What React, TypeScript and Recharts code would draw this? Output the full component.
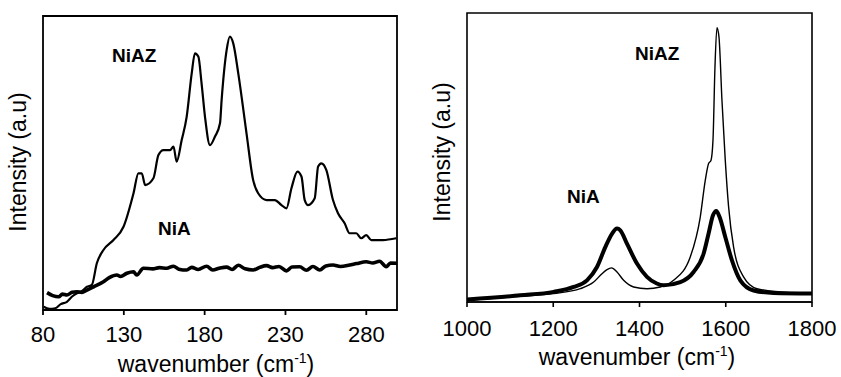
import React from 'react';
import { LineChart, Line, XAxis, YAxis, ReferenceArea } from 'recharts';

const FONT = '"Liberation Sans", Arial, Helvetica, sans-serif';

const leftTicks = [80, 130, 180, 230, 280];
const rightTicks = [1000, 1200, 1400, 1600, 1800];

// Left panel (low wavenumber)
const niazLow = [
  { x: 80.4, y: 1.1 }, { x: 84, y: 0.4 }, { x: 87.6, y: 0.6 }, { x: 91, y: 2.0 }, { x: 94.8, y: 2.8 },
  { x: 98, y: 4.6 }, { x: 101, y: 5.7 }, { x: 104, y: 6.4 }, { x: 107.2, y: 7.9 }, { x: 110.2, y: 8.5 },
  { x: 113.3, y: 15.9 }, { x: 117.4, y: 20.4 }, { x: 123.6, y: 23.8 }, { x: 129.8, y: 28.3 },
  { x: 136, y: 39.7 }, { x: 139, y: 46.5 }, { x: 141.1, y: 46.5 }, { x: 143.2, y: 42.5 },
  { x: 148.3, y: 44.8 }, { x: 151.4, y: 52.7 }, { x: 154.5, y: 54.4 }, { x: 158.6, y: 54.4 },
  { x: 160.7, y: 55.6 }, { x: 162.7, y: 50.5 }, { x: 165.8, y: 57.8 }, { x: 168.9, y: 65.8 },
  { x: 172, y: 80.5 }, { x: 174, y: 87.3 }, { x: 176.1, y: 86.2 }, { x: 178.1, y: 77.1 },
  { x: 180.2, y: 65.8 }, { x: 183.3, y: 56.1 }, { x: 186.4, y: 59 }, { x: 189.5, y: 63.5 },
  { x: 190.5, y: 71.4 }, { x: 193.6, y: 88.4 }, { x: 195.6, y: 93 }, { x: 197.7, y: 90.7 },
  { x: 200.8, y: 80.5 }, { x: 205.9, y: 60.1 }, { x: 210, y: 44.2 }, { x: 213.1, y: 39.7 },
  { x: 218.3, y: 37.4 }, { x: 223.4, y: 37.4 }, { x: 227.5, y: 35.7 }, { x: 230.6, y: 34.6 },
  { x: 233.7, y: 41.4 }, { x: 237.4, y: 47.1 }, { x: 239.9, y: 45.4 }, { x: 241.9, y: 37.4 },
  { x: 244, y: 35.7 }, { x: 248.1, y: 38 }, { x: 250.2, y: 48.8 }, { x: 252.2, y: 49.9 },
  { x: 255.3, y: 47.6 }, { x: 259.4, y: 37.4 }, { x: 262.5, y: 32.9 }, { x: 266.6, y: 29.5 },
  { x: 269.7, y: 26.1 }, { x: 273.8, y: 26.1 }, { x: 276.9, y: 24.4 }, { x: 280, y: 25.5 },
  { x: 283.1, y: 23.8 }, { x: 290.3, y: 23.8 }, { x: 298.5, y: 24.4 },
];

const niaLow = [
  { x: 82.5, y: 5.9 }, { x: 86, y: 4.9 }, { x: 89.7, y: 4.5 }, { x: 92, y: 5.4 }, { x: 94.8, y: 5.1 },
  { x: 98, y: 6.0 }, { x: 101, y: 6.2 }, { x: 104, y: 6.0 }, { x: 107.2, y: 6.8 }, { x: 111.3, y: 7.9 },
  { x: 117.4, y: 9.6 }, { x: 121, y: 11.0 }, { x: 125.7, y: 11.9 }, { x: 128, y: 11.4 }, { x: 131.9, y: 12.5 },
  { x: 136, y: 13 }, { x: 138, y: 11.9 }, { x: 142.1, y: 14.2 }, { x: 148, y: 14.0 }, { x: 152, y: 14.4 },
  { x: 156.5, y: 14.2 }, { x: 160.7, y: 14.9 }, { x: 164, y: 13.9 }, { x: 168.9, y: 13.6 },
  { x: 172, y: 14.5 }, { x: 176, y: 13.8 }, { x: 181.2, y: 14.9 }, { x: 185, y: 13.6 },
  { x: 189, y: 14.2 }, { x: 193.6, y: 14.6 }, { x: 197, y: 13.8 }, { x: 200.8, y: 15.2 },
  { x: 205, y: 14.0 }, { x: 210, y: 13.6 }, { x: 214, y: 14.5 }, { x: 218.3, y: 15.1 },
  { x: 222, y: 14.4 }, { x: 226, y: 14.8 }, { x: 230.6, y: 13.3 }, { x: 234, y: 14.6 },
  { x: 238.8, y: 14.7 }, { x: 243, y: 13.5 }, { x: 247, y: 14.8 }, { x: 251.2, y: 13.6 },
  { x: 255, y: 15.0 }, { x: 259.4, y: 15.3 }, { x: 264, y: 14.8 }, { x: 269.7, y: 15.3 },
  { x: 274, y: 15.8 }, { x: 280, y: 16.4 }, { x: 284, y: 16.0 }, { x: 288.2, y: 16.6 },
  { x: 292.3, y: 14.7 }, { x: 295, y: 16.0 }, { x: 299.5, y: 15.9 },
];

// Right panel (high wavenumber)
const niazHigh = [
  { x: 1000, y: 0.6 }, { x: 1123.6, y: 2.0 }, { x: 1200.9, y: 2.9 }, { x: 1262.8, y: 4.6 },
  { x: 1293.7, y: 6.9 }, { x: 1313, y: 9.8 }, { x: 1324.6, y: 11.2 }, { x: 1335, y: 11.8 },
  { x: 1347.8, y: 10.4 }, { x: 1363.2, y: 7.5 }, { x: 1386.4, y: 5.2 }, { x: 1417.3, y: 4.6 },
  { x: 1448, y: 5.2 }, { x: 1479, y: 7.5 }, { x: 1517.7, y: 15.6 }, { x: 1540.9, y: 29.4 },
  { x: 1552.5, y: 42.1 }, { x: 1560.2, y: 47.9 }, { x: 1565.7, y: 49 }, { x: 1570.4, y: 56 },
  { x: 1575, y: 81.3 }, { x: 1579.6, y: 94.9 }, { x: 1584.3, y: 91.7 }, { x: 1591.2, y: 69.8 },
  { x: 1598.9, y: 49 }, { x: 1606.6, y: 32.9 }, { x: 1618.2, y: 19 }, { x: 1641.3, y: 8.7 },
  { x: 1672.4, y: 4.6 }, { x: 1726.4, y: 3.5 }, { x: 1800, y: 2.9 },
];

const niaHigh = [
  { x: 1000, y: 0.9 }, { x: 1123.6, y: 2.3 }, { x: 1200.9, y: 3.5 }, { x: 1247.3, y: 5.2 },
  { x: 1278.2, y: 7.5 }, { x: 1301.4, y: 12.1 }, { x: 1320.7, y: 19 }, { x: 1336.2, y: 23.6 },
  { x: 1347.8, y: 25.4 }, { x: 1355.5, y: 24.8 }, { x: 1370.9, y: 20.2 }, { x: 1394.1, y: 13.3 },
  { x: 1417.3, y: 8.7 }, { x: 1440, y: 6.4 }, { x: 1455.8, y: 5.8 }, { x: 1494.6, y: 6.9 },
  { x: 1525.4, y: 10.4 }, { x: 1548.6, y: 16.7 }, { x: 1560.2, y: 23.7 }, { x: 1570.4, y: 30 },
  { x: 1578, y: 31.5 }, { x: 1585.7, y: 29.4 }, { x: 1598.9, y: 22.5 }, { x: 1614.4, y: 14.4 },
  { x: 1633.7, y: 7.5 }, { x: 1664.6, y: 4 }, { x: 1710.9, y: 3.1 }, { x: 1800, y: 2.9 },
];

type Pt = { x: number; y: number };

function Panel(props: {
  left: number; width: number; mTop: number; mLeft: number; mRight: number; axisH: number;
  domain: [number, number]; ticks: number[]; tickMargin: number; frameW: number;
  thin: Pt[]; thick: Pt[]; thinW: number; thickW: number;
}) {
  const { left, width, mTop, mLeft, mRight, axisH, domain, ticks, tickMargin, frameW, thin, thick, thinW, thickW } = props;
  return (
    <div style={{ position: 'absolute', left, top: 0 }}>
      <LineChart width={width} height={377} margin={{ top: mTop, left: mLeft, right: mRight, bottom: 0 }}>
        <XAxis
          type="number"
          dataKey="x"
          domain={domain}
          ticks={ticks}
          allowDataOverflow
          height={axisH}
          tickSize={5}
          tickMargin={tickMargin}
          stroke="#000"
          strokeWidth={frameW}
          tick={{ fontSize: 22, fill: '#000', fontFamily: FONT }}
          interval={0}
        />
        <YAxis type="number" domain={[0, 100]} width={0} hide allowDataOverflow />
        <ReferenceArea x1={domain[0]} x2={domain[1]} y1={0} y2={100} fill="none" fillOpacity={0} stroke="#000" strokeWidth={frameW} ifOverflow="visible" />
        <Line data={thick} dataKey="y" type="monotone" stroke="#000" strokeWidth={thickW} dot={false} isAnimationActive={false} />
        <Line data={thin} dataKey="y" type="monotone" stroke="#000" strokeWidth={thinW} dot={false} isAnimationActive={false} />
      </LineChart>
    </div>
  );
}

export default function App() {
  const txt = { fontFamily: FONT, fill: '#000' } as const;
  return (
    <div style={{ position: 'absolute', left: 0, top: 0, width: 841, height: 377, background: '#fff', overflow: 'hidden' }}>
      <Panel left={0} width={420} mTop={16} mLeft={43} mRight={23} axisH={67} domain={[80, 299]} ticks={leftTicks}
        tickMargin={11} frameW={1.8} thin={niazLow} thick={niaLow} thinW={2.2} thickW={3.6} />
      <Panel left={420} width={421} mTop={13} mLeft={47} mRight={29} axisH={75} domain={[1000, 1800]} ticks={rightTicks}
        tickMargin={13} frameW={1.6} thin={niazHigh} thick={niaHigh} thinW={1.4} thickW={4} />
      <svg width={841} height={377} style={{ position: 'absolute', left: 0, top: 0, pointerEvents: 'none' }}>
        <text {...txt} x={216} y={372} fontSize={23} textAnchor="middle">
          wavenumber (cm<tspan fontSize={14} dy={-9}>-1</tspan><tspan dy={9}>)</tspan>
        </text>
        <text {...txt} x={637} y={365} fontSize={23} textAnchor="middle">
          wavenumber (cm<tspan fontSize={14} dy={-9}>-1</tspan><tspan dy={9}>)</tspan>
        </text>
        <text {...txt} x={26} y={162} fontSize={23} textAnchor="middle" transform="rotate(-90 26 162)">Intensity (a.u)</text>
        <text {...txt} x={450} y={152} fontSize={23} textAnchor="middle" transform="rotate(-90 450 152)">Intensity (a.u)</text>
        <text {...txt} x={112} y={62} fontSize={19} fontWeight="bold">NiAZ</text>
        <text {...txt} x={158} y={235} fontSize={19} fontWeight="bold">NiA</text>
        <text {...txt} x={635} y={60} fontSize={19} fontWeight="bold">NiAZ</text>
        <text {...txt} x={567} y={203} fontSize={19} fontWeight="bold">NiA</text>
      </svg>
    </div>
  );
}
